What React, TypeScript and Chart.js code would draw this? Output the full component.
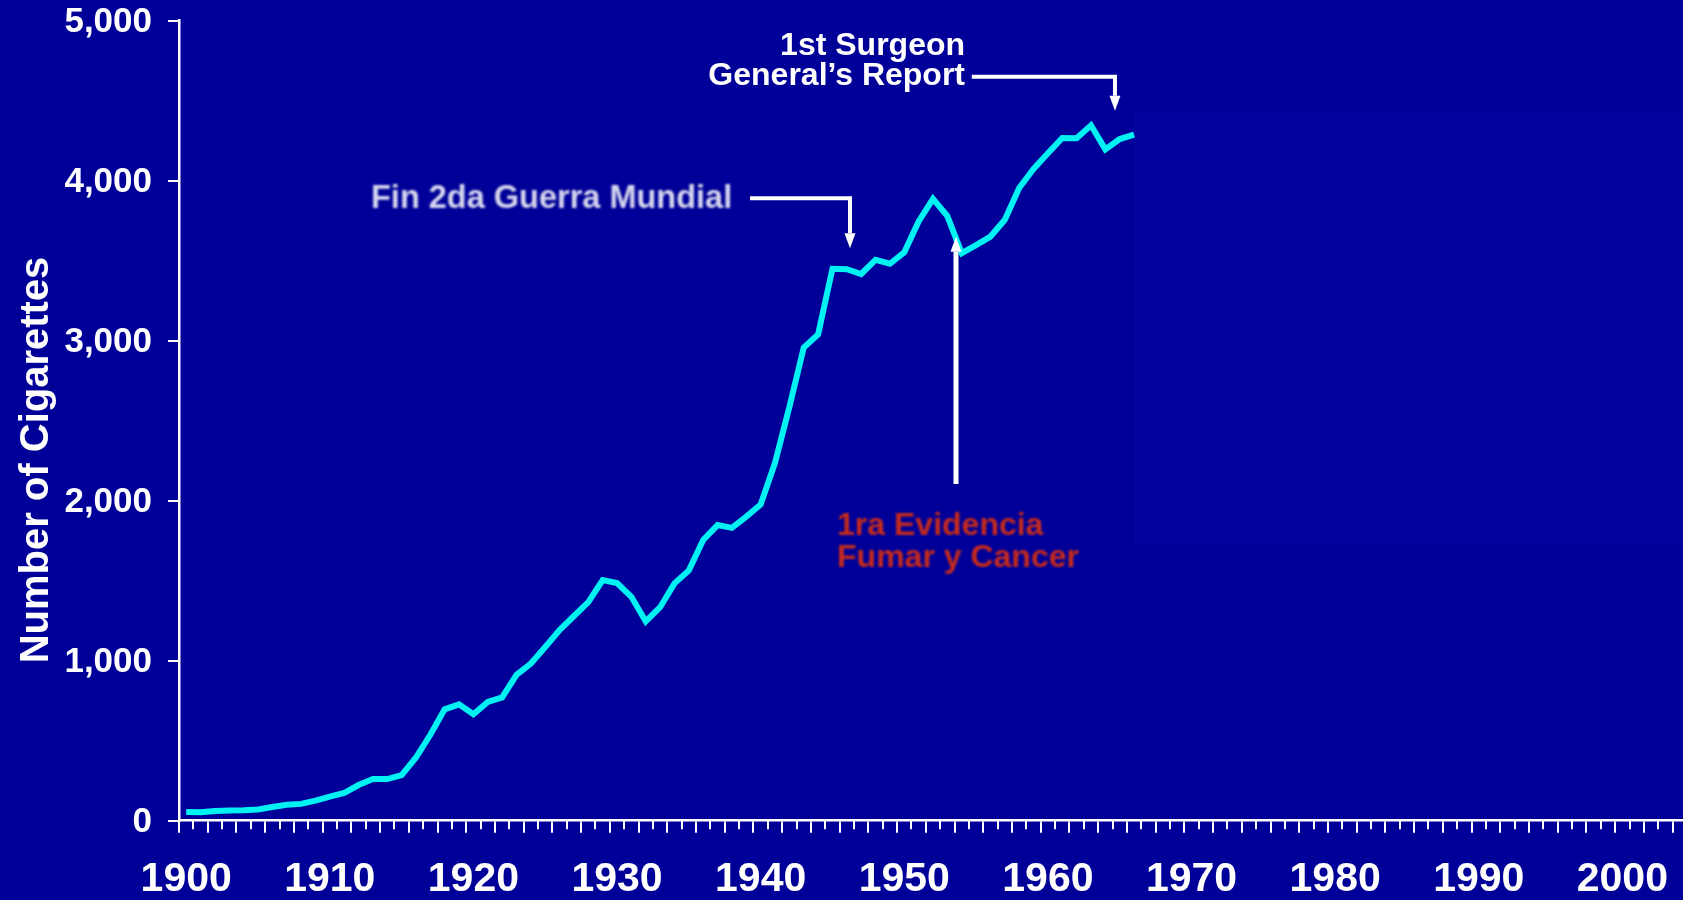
import React, { useEffect, useRef } from 'react';
import { Chart, registerables } from 'chart.js';

Chart.register(...registerables);

// ---------- data ----------
const START_YEAR = 1900;
const END_YEAR = 2004;
const YEARS: number[] = [];
for (let y = START_YEAR; y <= END_YEAR; y++) YEARS.push(y);

// Per-capita cigarette consumption, 1900 - 1966
const CONSUMPTION: number[] = [
  54, 53, 60, 64, 66, 70, 86, 99, 105, 125,
  151, 173, 223, 260, 260, 285, 395, 537, 696, 727,
  665, 742, 770, 911, 982, 1085, 1191, 1279, 1366, 1504,
  1485, 1399, 1245, 1334, 1483, 1564, 1754, 1847, 1830, 1900,
  1976, 2236, 2585, 2956, 3039, 3449, 3446, 3416, 3505, 3480,
  3552, 3744, 3886, 3778, 3546, 3597, 3650, 3755, 3953, 4073,
  4171, 4266, 4265, 4345, 4195, 4259, 4287,
];

const Y_TICKS: number[] = [0, 1000, 2000, 3000, 4000, 5000];
const Y_TITLE = 'Number of Cigarettes';

// annotations anchored in data space: [year, value]
const ANNOT_TEXTS = [
  { lines: ['1st Surgeon', 'General\u2019s Report'], year: 1954.23, values: [4785, 4597], align: 'right', color: '#FFFFFF', size: 32, blur: 0 },
  { lines: ['Fin 2da Guerra Mundial'], year: 1912.87, values: [3827], align: 'left', color: '#D6D6EE', size: 32.5, blur: 0.8 },
  { lines: ['1ra Evidencia', 'Fumar y Cancer'], year: 1945.32, values: [1786, 1583], align: 'left', color: '#C42A1C', size: 32, blur: 0.8 },
];
const ARROWS = [
  { path: [[1954.7, 4649], [1964.67, 4649], [1964.67, 4436]], width: 4 },
  { path: [[1939.26, 3889], [1946.22, 3889], [1946.22, 3577]], width: 4 },
  { path: [[1953.6, 2104], [1953.6, 3649]], width: 5 },
];
const MASK = { fromYear: 1965.97, top: 4430, bottom: 1729 };

// ---------- styles ----------
const BG = '#000099';
const MASK_COLOR = '#0303A0';
const LINE_COLOR = '#00F2F2';
const FONT = "'Liberation Sans', Arial, sans-serif";

const zeroPadding = (s: any) => {
  s.paddingTop = 0;
  s.paddingBottom = 0;
  s.paddingLeft = 0;
  s.paddingRight = 0;
};

export default function App() {
  const ref = useRef<HTMLCanvasElement>(null);

  useEffect(() => {
    const canvas = ref.current!;
    const X = (chart: any, yr: number) => chart.scales.x.getPixelForValue(yr - START_YEAR);
    const Y = (chart: any, v: number) => chart.scales.y.getPixelForValue(v);

    const bgPlugin = {
      id: 'bg',
      beforeDraw(chart: any) {
        const c = chart.ctx;
        c.save();
        c.fillStyle = BG;
        c.fillRect(0, 0, chart.width, chart.height);
        c.restore();
      },
      beforeDatasetsDraw(chart: any) {
        const c = chart.ctx;
        const x0 = X(chart, MASK.fromYear);
        const y0 = Y(chart, MASK.top);
        const y1 = Y(chart, MASK.bottom);
        c.save();
        c.fillStyle = MASK_COLOR;
        c.fillRect(x0, y0, chart.width - x0, y1 - y0);
        c.restore();
      },
    };

    const extras = {
      id: 'extras',
      afterDraw(chart: any) {
        const c = chart.ctx;
        const xs = chart.scales.x;
        const area = chart.chartArea;
        // short ticks on odd years
        const bw = xs.getPixelForValue(1) - xs.getPixelForValue(0);
        c.save();
        c.strokeStyle = '#FFFFFF';
        c.lineWidth = 2;
        for (let i = 1; i < YEARS.length; i += 2) {
          const x = Math.round(xs.getPixelForValue(i) - bw / 2);
          c.beginPath();
          c.moveTo(x, area.bottom);
          c.lineTo(x, area.bottom + 8.5);
          c.stroke();
        }
        c.restore();

        // y axis title
        c.save();
        c.fillStyle = '#FFFFFF';
        c.font = `bold 40px ${FONT}`;
        c.textAlign = 'center';
        c.textBaseline = 'alphabetic';
        c.translate(48, 460);
        c.rotate(-Math.PI / 2);
        c.fillText(Y_TITLE, 0, 0);
        c.restore();

        // arrows
        for (const a of ARROWS) {
          const pts = a.path.map(([yr, v]) => [X(chart, yr), Y(chart, v)]);
          const n = pts.length;
          const [tx, ty] = pts[n - 1];
          const [px, py] = pts[n - 2];
          const len = Math.hypot(tx - px, ty - py);
          const ux = (tx - px) / len, uy = (ty - py) / len;
          const headL = 15, headW = 5.5;
          c.save();
          c.strokeStyle = '#FFFFFF';
          c.fillStyle = '#FFFFFF';
          c.lineWidth = a.width;
          c.lineJoin = 'miter';
          c.beginPath();
          c.moveTo(pts[0][0], pts[0][1]);
          for (let i = 1; i < n - 1; i++) c.lineTo(pts[i][0], pts[i][1]);
          c.lineTo(tx - ux * headL, ty - uy * headL);
          c.stroke();
          c.beginPath();
          c.moveTo(tx, ty);
          c.lineTo(tx - ux * headL - uy * headW, ty - uy * headL + ux * headW);
          c.lineTo(tx - ux * headL + uy * headW, ty - uy * headL - ux * headW);
          c.closePath();
          c.fill();
          c.restore();
        }

        // annotation texts
        for (const t of ANNOT_TEXTS) {
          c.save();
          c.fillStyle = t.color;
          c.font = `bold ${t.size}px ${FONT}`;
          c.textAlign = t.align as CanvasTextAlign;
          c.textBaseline = 'alphabetic';
          if (t.blur) c.filter = `blur(${t.blur}px)`;
          const x = X(chart, t.year);
          t.lines.forEach((line, i) => c.fillText(line, x, Y(chart, t.values[i])));
          c.restore();
        }
      },
    };

    const chart = new Chart(canvas, {
      type: 'line',
      data: {
        labels: YEARS.map(String),
        datasets: [
          {
            data: CONSUMPTION,
            borderColor: LINE_COLOR,
            borderWidth: 6,
            pointRadius: 0,
            tension: 0,
            fill: false,
          },
        ],
      },
      options: {
        animation: false,
        responsive: false,
        devicePixelRatio: 1,
        layout: { padding: { top: 20.5, left: 0, right: 0, bottom: 0 } },
        plugins: { legend: { display: false }, tooltip: { enabled: false }, title: { display: false } },
        scales: {
          x: {
            type: 'category',
            offset: true,
            grid: {
              offset: true,
              drawOnChartArea: false,
              drawTicks: true,
              tickLength: 12,
              lineWidth: 2,
              color: '#FFFFFF',
              tickColor: (ctx: any) => (ctx.index !== undefined && ctx.index % 2 === 0 ? '#FFFFFF' : 'rgba(0,0,0,0)'),
            },
            border: { display: true, color: '#FFFFFF', width: 2.5 },
            ticks: {
              autoSkip: false,
              maxRotation: 0,
              minRotation: 0,
              padding: 22,
              color: '#FFFFFF',
              font: { family: FONT, weight: 'bold', size: 41 },
              callback: (_v: any, i: number) => (YEARS[i] % 10 === 0 ? String(YEARS[i]) : ''),
            },
            afterFit: (s: any) => { s.height = 79.3; zeroPadding(s); },
          },
          y: {
            type: 'linear',
            min: 0,
            max: 5000,
            afterBuildTicks: (s: any) => { s.ticks = Y_TICKS.map((v) => ({ value: v })); },
            grid: {
              drawOnChartArea: false,
              drawTicks: true,
              tickLength: 11,
              lineWidth: 2,
              color: '#FFFFFF',
            },
            border: { display: true, color: '#FFFFFF', width: 2.5 },
            ticks: {
              padding: 16,
              labelOffset: 2,
              color: '#FFFFFF',
              font: { family: FONT, weight: 'bold', size: 35 },
              callback: (v: any) => Number(v).toLocaleString('en-US'),
            },
            afterFit: (s: any) => { s.width = 179; zeroPadding(s); },
          },
        },
      },
      plugins: [bgPlugin, extras],
    } as any);

    return () => chart.destroy();
  }, []);

  return (
    <div style={{ position: 'absolute', left: 0, top: 0, width: 1683, height: 900, overflow: 'hidden', background: BG }}>
      <canvas ref={ref} width={1687} height={900} style={{ display: 'block', width: 1687, height: 900 }} />
    </div>
  );
}
